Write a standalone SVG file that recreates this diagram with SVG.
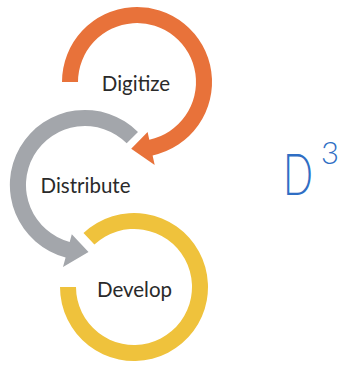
<svg xmlns="http://www.w3.org/2000/svg" width="344" height="365" viewBox="0 0 344 365">
<style>
.lbl{font-family:Lato,"Open Sans","Liberation Sans",sans-serif;font-size:20.5px;fill:#2a2a2a;text-anchor:middle}
.d3{font-family:Lato,"Open Sans","Liberation Sans",sans-serif;font-weight:300;fill:#2f6ec4}
</style>
<rect width="344" height="365" fill="#ffffff"/>
<g id="connectors">
<path id="arrow-digitize" fill="#E8723A" d="M62,82 A75,75 0 1,1 152.6,155.4 L154.7,165.1 L131.2,148.7 L147.6,131.9 L149.3,139.7 A59,59 0 1,0 78,82 Z"/>
<path id="arrow-distribute" fill="#A3A6AB" d="M138,132 A75,75 0 1,0 65.6,257.4 L63,267.1 L88.5,251.9 L71.8,234.3 L69.7,242 A59,59 0 1,1 126.7,143.3 Z"/>
<path id="arc-develop" fill="#EFC23C" d="M83.5,232.9 A74,74 0 1,1 60,287 L76,287 A58,58 0 1,0 94.4,244.6 Z"/>
</g>
<g id="node-digitize"><text class="lbl" x="136" y="91">Digitize</text></g>
<g id="node-distribute"><text class="lbl" x="85.5" y="193">Distribute</text></g>
<g id="node-develop"><text class="lbl" x="134.5" y="297">Develop</text></g>
<g id="title">
<text class="d3" transform="translate(283,195) scale(0.68,1)" font-size="58">D</text>
<text class="d3" x="321" y="164" font-size="31">3</text>
</g>
</svg>
